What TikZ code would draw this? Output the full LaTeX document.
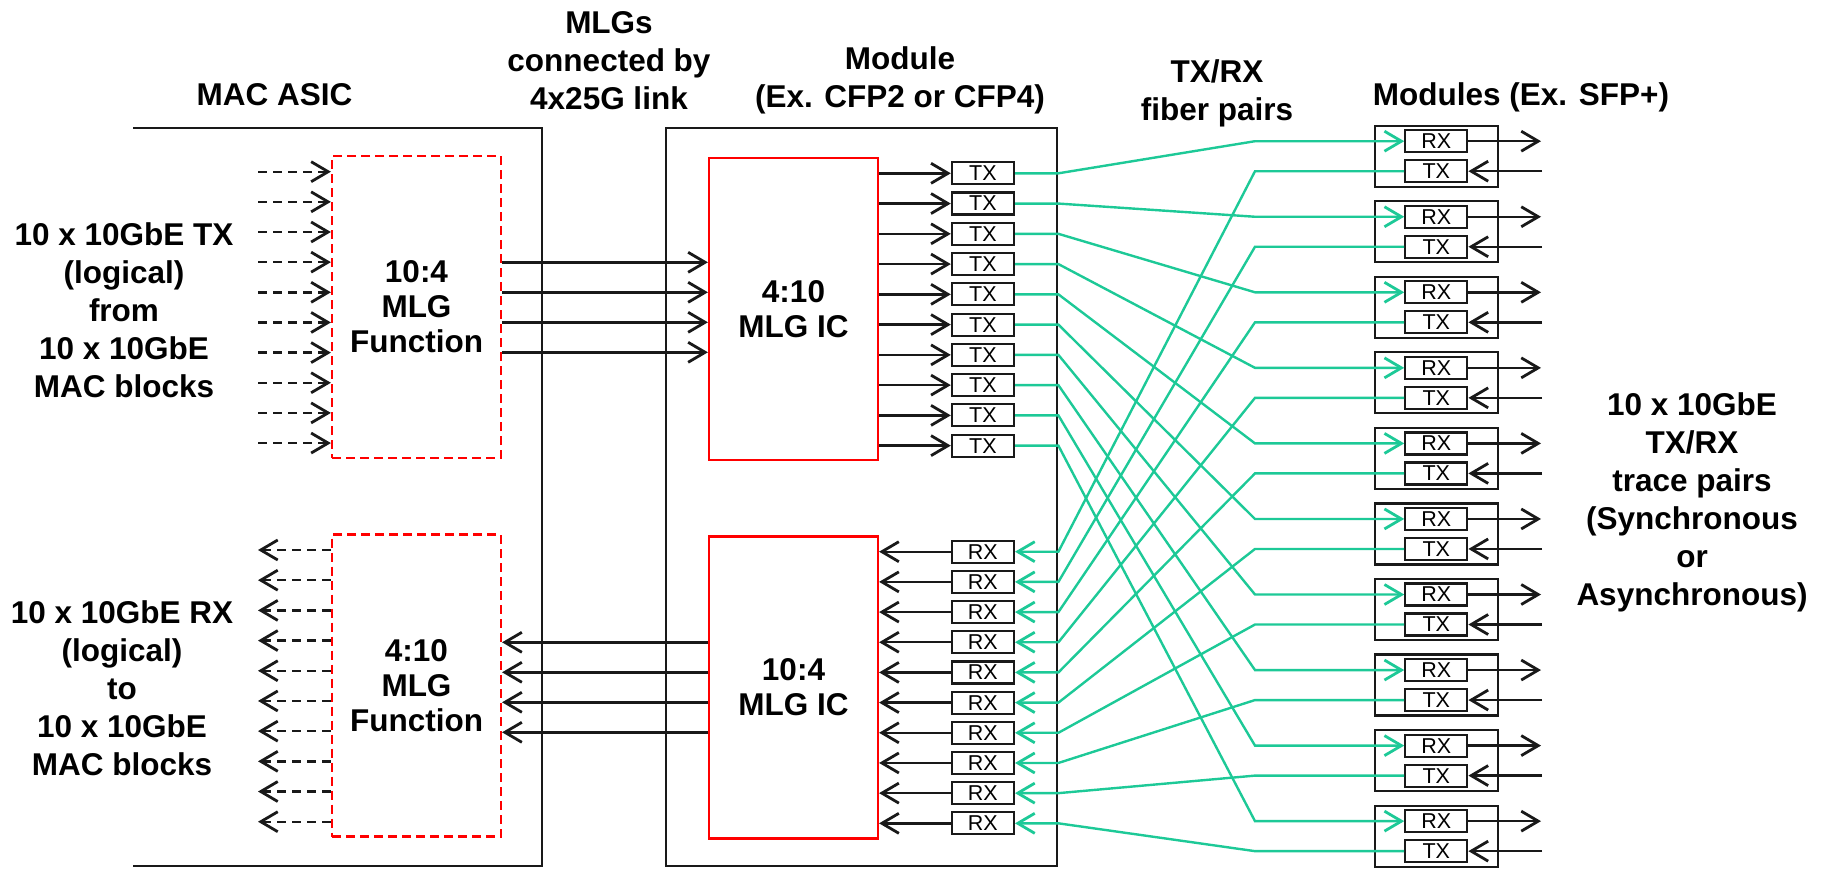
\documentclass[tikz,border=0pt]{standalone}
\usepackage{fontspec}
\setmainfont{Liberation Sans}
\usetikzlibrary{arrows.meta}
\definecolor{fiber}{RGB}{29,201,151}
\definecolor{lineblk}{RGB}{25,25,25}
\newcommand\dgbig{\fontsize{31.5}{38}\selectfont\bfseries}
\newcommand\dgbox{\fontsize{31.5}{35}\selectfont\bfseries}
\newcommand\dgsmall{\fontsize{21.5}{24}\selectfont}
\begin{document}
\begin{tikzpicture}[x=1pt,y=-1pt,line width=2.4pt,
  >={Straight Barb[length=17pt,width=20pt,line width=2.8pt]},
  arr/.style={->,draw=lineblk,line width=2.4pt},
  rarr/.style={<-,draw=lineblk,line width=2.4pt},
  darr/.style={draw=lineblk,line width=2.4pt,dash pattern=on 9pt off 6pt},
  fib/.style={draw=fiber,line width=2.4pt},
  redbox/.style={draw=red,line width=2.2pt,minimum width=169pt,minimum height=302pt,inner sep=0pt,align=center,font=\dgbox},
  dredbox/.style={redbox,dash pattern=on 9pt off 5pt},
  lab/.style={draw=lineblk,line width=2.2pt,minimum width=62pt,minimum height=22pt,inner sep=0pt,font=\dgsmall},
  sfpbox/.style={draw=lineblk,line width=2.2pt,minimum width=122.7pt,minimum height=61pt,inner sep=0pt},
  txt/.style={align=center,font=\dgbig,inner sep=0pt}
]
\useasboundingbox (0,0) rectangle (1824,868);

% headers
\node[txt] (hmac) at (274.5,95) {MAC ASIC};
\node[txt] (hmlg) at (609,61) {MLGs\\connected by\\4x25G link};
\node[txt] (hmod) at (900,80) {Module\\(Ex. CFP2 or CFP4)};
\node[txt] (hfib) at (1217,93.5) {TX/RX\\fiber pairs};
\node[txt] (hsfp) at (1521,97) {Modules (Ex. SFP+)};

% side texts
\node[txt] (ltx) at (124,310) {10 x 10GbE TX\\(logical)\\from\\10 x 10GbE\\MAC blocks};
\node[txt] (lrx) at (122,688) {10 x 10GbE RX\\(logical)\\to\\10 x 10GbE\\MAC blocks};
\node[txt] (rtxt) at (1692,502.5) {10 x 10GbE\\TX/RX\\trace pairs\\(Synchronous\\or\\Asynchronous)};

% MAC ASIC box (open on the left)
\draw[lineblk,line width=2.2pt] (133,128) -- (541.7,128) -- (541.7,866) -- (133,866);

% CFP module box
\node[draw=lineblk,line width=2.2pt,minimum width=391.6pt,minimum height=737.7pt,inner sep=0pt] (cfp) at (861.5,497.15) {};

% function boxes
\node[dredbox] (macTX) at (416.5,307) {10:4\\MLG\\Function};
\node[dredbox] (macRX) at (416.5,685.5) {4:10\\MLG\\Function};
\node[redbox] (mlgTX) at (793.5,309) {4:10\\MLG IC};
\node[redbox] (mlgRX) at (793.5,687.5) {10:4\\MLG IC};

\coordinate (kink) at (1255,0);

\foreach \i in {1,...,10}{
  \pgfmathsetmacro\ty{173.3+30.26*(\i-1)}
  \pgfmathsetmacro\ry{551.7+30.18*(\i-1)}
  \pgfmathsetmacro\st{125.7+75.55*(\i-1)}
  \pgfmathsetmacro\dty{171.7+30.15*(\i-1)}
  \pgfmathsetmacro\dry{550+30.19*(\i-1)}
  \node[lab] (tx\i) at (982.9,\ty) {TX};
  \node[lab] (rx\i) at (982.9,\ry) {RX};
  \node[sfpbox] (sfp\i) at (1436.3,\st+30.5) {};
  \node[lab] (srx\i) at (1436.3,\st+15.5) {RX};
  \node[lab] (stx\i) at (1436.3,\st+45.5) {TX};
  \coordinate (so\i) at (1541,\st+15.5);
  \coordinate (si\i) at (1542,\st+45.5);
  \coordinate (dt\i) at (258,\dty);
  \coordinate (dr\i) at (258,\dry);
  % dashed logical lanes
  \draw[darr,->] (dt\i) -- (dt\i -| macTX.west);
  \draw[darr,<-] (dr\i) -- (dr\i -| macRX.west);
  % MLG IC to CFP lanes
  \draw[arr] (tx\i.west -| mlgTX.east) -- (tx\i.west);
  \draw[rarr] (rx\i.west -| mlgRX.east) -- (rx\i.west);
  % SFP electrical side
  \draw[arr] (srx\i.east) -- (so\i);
  \draw[arr] (si\i) -- (stx\i.east);
  % fibers
  \draw[fib,->] (tx\i.east) -- (tx\i.east -| cfp.east) -- (srx\i.west -| kink) -- (srx\i.west);
  \draw[fib,<-] (rx\i.east) -- (rx\i.east -| cfp.east) -- (stx\i.west -| kink) -- (stx\i.west);
}

% 4x25G links
\foreach \j in {1,...,4}{
  \pgfmathsetmacro\ay{262.3+30*(\j-1)}
  \pgfmathsetmacro\by{642.3+30*(\j-1)}
  \coordinate (la\j) at (600,\ay);
  \coordinate (lb\j) at (600,\by);
  \draw[arr] (la\j -| macTX.east) -- (la\j -| mlgTX.west);
  \draw[arr] (lb\j -| mlgRX.west) -- (lb\j -| macRX.east);
}
\end{tikzpicture}
\end{document}
